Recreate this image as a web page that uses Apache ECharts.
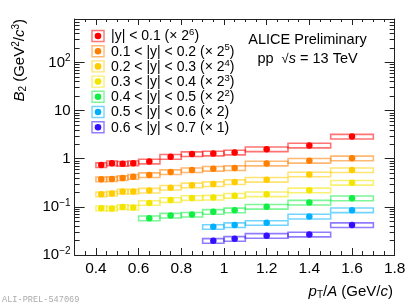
<!DOCTYPE html>
<html><head><meta charset="utf-8">
<script src="https://cdn.jsdelivr.net/npm/echarts@6/dist/echarts.min.js"></script>
<style>html,body{margin:0;padding:0;background:#fff}#c{width:415px;height:306px}</style>
</head><body><div id="c"></div>
<script>
// ---- data ----
const binLow  = [0.40,0.45,0.50,0.55,0.60,0.70,0.80,0.90,1.00,1.10,1.30,1.50];
const binHigh = [0.45,0.50,0.55,0.60,0.70,0.80,0.90,1.00,1.10,1.30,1.50,1.70];
const xCenter = [0.425,0.475,0.525,0.575,0.65,0.75,0.85,0.95,1.05,1.2,1.4,1.6];
const sysRel = 0.11;

const seriesNames = ['|y| < 0.1 (× 2{s|6})','0.1 < |y| < 0.2 (× 2{s|5})','0.2 < |y| < 0.3 (× 2{s|4})',
  '0.3 < |y| < 0.4 (× 2{s|3})','0.4 < |y| < 0.5 (× 2{s|2})','0.5 < |y| < 0.6 (× 2)','0.6 < |y| < 0.7 (× 1)'];
const seriesColors = ['#ff0000','#ff7f00','#ffcc00','#f2e600','#11ee44','#00b0ff','#3311ff'];
const firstBin = [0,0,0,0,4,7,7];
const y00_01 = [0.74,0.81,0.79,0.81,0.88,1.10,1.25,1.29,1.35,1.58,1.89,2.89];
const y01_02 = [0.373,0.378,0.397,0.424,0.458,0.528,0.580,0.621,0.64,0.80,0.91,1.02];
const y02_03 = [0.182,0.189,0.208,0.208,0.218,0.251,0.280,0.298,0.328,0.367,0.473,0.58];
const y03_04 = [0.0936,0.092,0.0996,0.097,0.121,0.139,0.153,0.156,0.171,0.183,0.221,0.318];
const y04_05 = [0.058,0.066,0.069,0.079,0.085,0.101,0.123,0.151];
const y05_06 = [0.0384,0.0418,0.0465,0.0631,0.0852];
const y06_07 = [0.0197,0.0217,0.0251,0.0267,0.0418];
const allValues = [y00_01,y01_02,y02_03,y03_04,y04_05,y05_06,y06_07];

const xMajor = [0.4,0.6,0.8,1.0,1.2,1.4,1.6,1.8];
const xMinor = [0.35,0.45,0.5,0.55,0.65,0.7,0.75,0.85,0.9,0.95,1.05,1.1,1.15,1.25,1.3,1.35,1.45,1.5,1.55,1.65,1.7,1.75];
const yMajor = [0.01,0.1,1,10,100];
const yMinor = [0.02,0.03,0.04,0.05,0.06,0.07,0.08,0.09,0.2,0.3,0.4,0.5,0.6,0.7,0.8,0.9,
  2,3,4,5,6,7,8,9,20,30,40,50,60,70,80,90,200,300,400,500,600,700,800];
const yLabels = {0.01:'10{s|−2}',0.1:'10{s|−1}',1:'1',10:'10',100:'10{s|2}'};

// ---- chart ----
const FONT = '"Liberation Sans", Arial, sans-serif';
const chart = echarts.init(document.getElementById('c'), null, {renderer:'canvas'});
const AX = '#222';
function xAx(pos, major, showLine, showLabel){
  return {type:'value', position:pos, min:0.3, max:1.8, gridIndex:0,
    axisLine:{show:showLine, onZero:false, lineStyle:{color:AX, width:1}},
    axisTick:{show:true, inside:true, length: major? (pos==='top'?6:7) : (pos==='top'?3:4),
      customValues: major? xMajor : xMinor, lineStyle:{color:AX}},
    axisLabel:{show:showLabel, customValues:xMajor, margin:6, color:'#000', fontSize:15.5, fontFamily:FONT,
      formatter: v => (+v.toFixed(1)).toString()},
    splitLine:{show:false}};
}
function yAx(pos, major, showLine, showLabel){
  return {type:'log', logBase:10, position:pos, min:0.01, max:800, gridIndex:0,
    axisLine:{show:showLine, onZero:false, lineStyle:{color:AX, width:1}},
    axisTick:{show:true, inside:true, length: major? 10 : 5,
      customValues: major? yMajor : yMinor, lineStyle:{color:AX}},
    axisLabel:{show:showLabel, customValues:yMajor, margin:4, color:'#000', fontSize:15, fontFamily:FONT,
      formatter: v => { for (const k in yLabels) if (Math.abs(Math.log10(v)-Math.log10(+k))<1e-6) return yLabels[k]; return ''; },
      rich:{s:{fontSize:10, fontFamily:FONT, color:'#000', padding:[0,0,8,0]}}},
    splitLine:{show:false}};
}

const series = [];
allValues.forEach((vals, si) => {
  const col = seriesColors[si];
  const boxData = vals.map((v,i) => [binLow[firstBin[si]+i], binHigh[firstBin[si]+i], v]);
  const ptData = vals.map((v,i) => [xCenter[firstBin[si]+i], v]);
  series.push({type:'custom', xAxisIndex:0, yAxisIndex:0, data:boxData, z:2,
    encode:{x:[0,1], y:2},
    renderItem:(params, api) => {
      const lo = api.value(0), hi = api.value(1), v = api.value(2);
      const a = api.coord([lo, v*(1+sysRel)]), b = api.coord([hi, v*(1-sysRel)]);
      return {type:'rect', shape:{x:a[0], y:a[1], width:b[0]-a[0], height:b[1]-a[1]},
        style:{fill:'rgba(255,255,255,0)', stroke:col, lineWidth:1.6, opacity:0.55}};
    }});
  series.push({type:'scatter', xAxisIndex:0, yAxisIndex:0, data:ptData, symbol:'circle', symbolSize:6.5,
    itemStyle:{color:col, opacity:1}, z:3, silent:true});
});

const graphic = [];
seriesNames.forEach((nm, i) => {
  const cy = 36 + i*15.2;
  graphic.push({type:'rect', shape:{x:92, y:cy-5.5, width:12, height:11},
    style:{fill:'none', stroke:seriesColors[i], lineWidth:1.4, opacity:0.55}});
  graphic.push({type:'circle', shape:{cx:98, cy:cy, r:3.3}, style:{fill:seriesColors[i]}});
  graphic.push({type:'text', x:111, y:cy+0.5, style:{text:nm, font:'14px '+FONT, fill:'#000',
    verticalAlign:'middle', rich:{s:{fontSize:9.5, fontFamily:FONT, fill:'#000', padding:[0,0,8,0]}}}});
});
graphic.push({type:'text', x:307.5, y:39.5, style:{text:'ALICE Preliminary', font:'14.5px '+FONT, fill:'#000', align:'center', verticalAlign:'middle'}});
graphic.push({type:'text', x:307.5, y:59, style:{text:'pp  {r|√}{i|s} = 13 TeV', font:'14.5px '+FONT, fill:'#000', align:'center', verticalAlign:'middle',
  rich:{i:{fontStyle:'italic', fontSize:14.5, fontFamily:FONT}, r:{fontSize:13, fontFamily:FONT}}}});
graphic.push({type:'text', x:20, y:19, rotation:Math.PI/2,
  style:{text:'{i|B}{b|2} (GeV{s|2}/{i|c}{s|3})', font:'15px '+FONT, fill:'#000', align:'right', verticalAlign:'middle',
    rich:{i:{fontStyle:'italic', fontSize:15, fontFamily:FONT}, b:{fontSize:10, fontFamily:FONT, padding:[6,0,0,0]}, s:{fontSize:10, fontFamily:FONT, padding:[0,0,8,0]}}}});
graphic.push({type:'text', x:393, y:292, style:{text:'{i|p}{b|T}/{i|A} (GeV/{i|c})', font:'15px '+FONT, fill:'#000', align:'right', verticalAlign:'middle',
  rich:{i:{fontStyle:'italic', fontSize:15, fontFamily:FONT}, b:{fontSize:10, fontFamily:FONT, padding:[7,0,0,0]}}}});
graphic.push({type:'text', x:2, y:300, style:{text:'ALI-PREL-547069', font:'8.6px "Liberation Mono", monospace', fill:'#aaa', verticalAlign:'middle'}});

chart.setOption({
  animation:false,
  backgroundColor:'#fff',
  grid:{left:74.6, right:20.3, top:19, bottom:51, containLabel:false},
  xAxis:[xAx('bottom',true,true,true), xAx('bottom',false,false,false), xAx('top',true,true,false), xAx('top',false,false,false)],
  yAxis:[yAx('left',true,true,true), yAx('left',false,false,false), yAx('right',true,true,false), yAx('right',false,false,false)],
  series: series,
  graphic: graphic
});
</script></body></html>
